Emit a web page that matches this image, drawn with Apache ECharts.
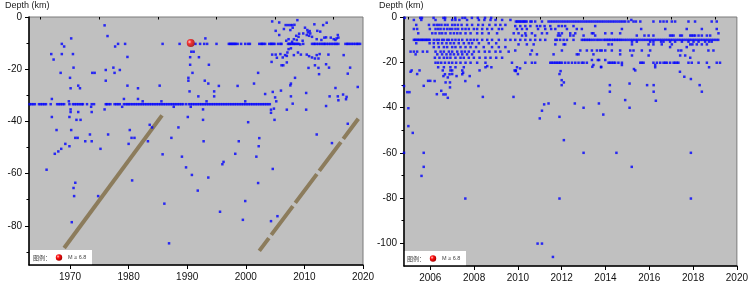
<!DOCTYPE html>
<html>
<head>
<meta charset="utf-8">
<script src="https://cdn.jsdelivr.net/npm/echarts@6/dist/echarts.min.js"></script>
<style>
  html, body { margin: 0; padding: 0; background: #fff; }
  #chart { width: 751px; height: 283px; }
</style>
</head>
<body>
<div id="chart"></div>
<script>
// ---- tick values ----
const leftXTicks = [1970, 1980, 1990, 2000, 2010, 2020]
const leftXMinor = [1965, 1975, 1985, 1995, 2005, 2015]
const leftYTicks = [0, -20, -40, -60, -80]
const leftYMinor = [-10, -30, -50, -70, -90]
const rightXTicks = [2006, 2008, 2010, 2012, 2014, 2016, 2018, 2020]
const rightXMinor = [2005, 2007, 2009, 2011, 2013, 2015, 2017, 2019]
const rightYTicks = [0, -20, -40, -60, -80, -100]
const rightYMinor = [-10, -30, -50, -70, -90]

// ---- left panel (1963-2020) ----
// events sitting on the -33 km row
const left33Depth = -33.4
const left33Years = [1963.1, 1963.4, 1963.7, 1964.0, 1964.7, 1965.0, 1965.3, 1965.6, 1965.9, 1966.7,
  1967.8, 1968.1, 1968.4, 1968.7, 1969.0, 1969.9, 1970.5, 1970.8, 1971.1, 1971.4, 1971.7, 1972.0,
  1972.2, 1972.9, 1973.7, 1974.1, 1976.1, 1976.3, 1976.6, 1976.9, 1977.6, 1977.9, 1978.2, 1978.5,
  1979.2, 1979.5, 1979.8, 1980.0, 1980.3, 1980.6, 1980.9, 1981.2, 1981.5, 1981.8, 1982.1, 1982.4,
  1982.7, 1983.0, 1983.3, 1983.6, 1983.9, 1984.2, 1984.5, 1984.8, 1985.1, 1985.4, 1985.7, 1986.0,
  1986.3, 1986.6, 1986.9, 1987.2, 1987.5, 1987.8, 1988.1, 1988.4, 1988.7, 1989.0, 1989.3, 1989.8,
  1990.3, 1990.6, 1990.9, 1991.2, 1991.5, 1991.8, 1992.1, 1992.4, 1992.7, 1993.0, 1993.3, 1993.6,
  1993.9, 1994.2, 1994.5, 1994.8, 1995.1, 1995.4, 1995.7, 1996.0, 1996.3, 1996.6, 1996.9, 1997.2,
  1997.5, 1997.8, 1998.1, 1998.4, 1998.7, 1999.0, 1999.3, 1999.6, 1999.9, 2000.2, 2000.5, 2000.8,
  2001.1, 2001.4, 2001.7, 2002.0, 2002.3, 2002.6, 2002.9, 2003.2, 2003.5, 2003.8, 2004.1]

// events sitting on the -10 km row
const left10Depth = -10.3
const left10Years = [1985.8, 1988.7, 1991.4, 1992.2, 1992.9, 1993.4, 1995.0, 1997.1, 1997.3, 1997.5,
  1997.7, 1997.9, 1998.1, 1998.3, 1998.6, 1999.2, 1999.9, 2000.4, 2000.7, 2002.3, 2002.6, 2002.8,
  2003.0, 2003.3, 2004.0, 2004.3, 2004.4, 2004.7, 2004.9, 2005.5, 2005.9, 2006.1, 2007.2, 2007.4,
  2007.6, 2007.8, 2008.1, 2008.3, 2008.5, 2008.8, 2009.0, 2009.8, 2011.3, 2011.6, 2011.8, 2012.1,
  2012.4, 2012.7, 2013.0, 2013.3, 2013.5, 2013.8, 2014.1, 2014.4, 2014.7, 2015.0, 2015.3, 2015.5,
  2015.8, 2017.0, 2017.3, 2017.5, 2017.8, 2018.1, 2018.4, 2018.7, 2019.0, 2019.2, 2019.5]

// remaining left events [year, depth]
const leftPoints = [
  [1975.9, -3.2], [1976.4, -7.3], [1970.2, -8.2], [1968.6, -10.3], [1969.0, -11.3], [1966.8, -14.2],
  [1967.2, -16.3], [1968.6, -14.2], [1970.5, -14.2], [1978.2, -10.3], [1979.4, -10.3], [1977.7, -11.3],
  [1979.8, -15.3], [1970.6, -19.4], [1968.4, -21.4], [1970.0, -23.3], [1973.8, -21.4], [1974.2, -21.4],
  [1976.1, -20.3], [1977.4, -19.4], [1978.5, -20.3], [1977.6, -21.4], [1976.1, -24.4], [1971.4, -26.3],
  [1971.7, -27.3], [1970.1, -27.3], [1979.8, -26.3], [1981.6, -27.3], [1966.9, -31.4], [1969.8, -32.3],
  [1979.2, -31.4], [1981.6, -31.4], [1978.9, -34.4], [1970.1, -35.4], [1973.6, -34.4], [1975.9, -35.4],
  [1970.1, -36.4], [1971.4, -36.4], [1973.7, -36.4], [1966.9, -38.3], [1969.9, -38.3], [1971.1, -39.4],
  [1971.8, -39.4], [1967.7, -43.3], [1970.2, -43.3], [1973.4, -45.0], [1976.5, -45.0], [1980.2, -43.3],
  [1993.1, -8.2], [1990.7, -13.3], [1991.1, -13.3], [1990.5, -15.4], [1992.0, -15.4], [1990.5, -18.3],
  [1993.7, -18.3], [1990.9, -21.4], [1990.2, -23.3], [1990.2, -24.4], [1993.0, -24.4], [1993.6, -25.5],
  [1995.4, -26.4], [1998.6, -26.4], [1985.3, -26.3], [1990.4, -28.5], [1994.6, -28.5], [1991.9, -30.4],
  [1994.6, -30.4], [1982.4, -32.3], [1985.6, -32.3], [1993.3, -32.3], [1999.9, -32.3], [1987.7, -34.4],
  [1990.6, -34.4], [1992.7, -35.4], [1990.1, -38.3], [1992.7, -39.4], [2000.4, -40.3], [1983.6, -41.3],
  [1984.0, -42.3], [1988.5, -42.3],
  [2004.5, -1.7], [2005.7, -2.1], [2008.8, -1.2], [2006.8, -3.1], [2007.2, -3.1], [2007.6, -3.1],
  [2007.9, -3.1], [2008.3, -3.0], [2005.1, -5.3], [2006.5, -4.6], [2007.6, -5.0], [2008.0, -4.1],
  [2010.1, -4.1], [2010.5, -5.0], [2010.9, -5.4], [2010.6, -5.9], [2011.0, -6.3], [2010.4, -6.9],
  [2010.8, -7.2], [2011.3, -7.6], [2011.7, -2.8], [2012.2, -5.3], [2012.7, -5.6], [2013.2, -3.1],
  [2013.8, -2.2], [2012.9, -8.8], [2012.1, -8.5], [2013.4, -7.9], [2013.7, -7.8], [2014.5, -7.9],
  [2015.0, -8.5], [2015.5, -8.2], [2015.8, -7.9], [2015.7, -6.9], [2015.3, -8.8], [2005.7, -6.9],
  [2006.9, -9.1], [2007.3, -8.5], [2007.9, -9.5], [2008.2, -8.5], [2008.7, -8.8], [2009.0, -7.6],
  [2008.6, -7.2], [2009.1, -6.4], [2009.8, -6.3], [2009.7, -9.1], [2009.3, -10.5],
  [2007.3, -12.3], [2007.7, -12.0], [2007.1, -13.6], [2006.7, -14.6], [2004.5, -14.4], [2005.1, -14.4],
  [2005.9, -14.2], [2005.3, -15.6], [2006.3, -15.5], [2007.0, -14.9], [2008.2, -14.6], [2008.9, -13.6],
  [2009.4, -14.4], [2010.4, -14.4], [2010.8, -15.0], [2011.3, -15.5], [2012.1, -14.6], [2012.6, -14.2],
  [2012.4, -15.9], [2011.8, -15.9], [2014.1, -14.4], [2016.7, -14.6], [2004.4, -17.2], [2006.1, -18.5],
  [2006.4, -18.5], [2007.0, -17.4], [2010.7, -19.5], [2011.8, -18.5], [2012.4, -19.5], [2013.7, -18.1],
  [2014.2, -19.4], [2017.8, -19.4], [2012.5, -21.9], [2017.4, -21.7], [2002.1, -21.4], [2001.4, -25.5],
  [2008.4, -23.3], [2007.7, -25.5], [2007.6, -26.2], [2006.0, -28.2], [2004.6, -28.7], [2005.0, -30.8],
  [2003.3, -29.5], [2005.2, -32.3], [2007.7, -30.4], [2008.0, -33.2], [2010.3, -29.1], [2014.3, -30.4],
  [2015.3, -27.2], [2015.7, -30.4], [2015.8, -31.9], [2016.6, -29.7], [2017.2, -30.6], [2017.1, -31.5],
  [2019.1, -26.8], [2013.7, -34.1], [2007.0, -35.5], [2004.8, -35.1], [2004.3, -35.5], [2004.3, -36.7],
  [2010.3, -35.5], [2004.9, -39.4], [2017.4, -40.9], [2012.1, -45.0],
  [1966.0, -58.5], [1967.4, -52.4], [1968.0, -51.5], [1968.5, -50.5], [1969.2, -48.6], [1969.9, -49.5],
  [1972.6, -47.6], [1973.7, -47.6], [1975.2, -50.5], [1974.8, -68.6], [1970.9, -63.5], [1970.6, -65.5],
  [1970.7, -68.6], [1970.3, -78.6], [1980.0, -48.6], [1980.6, -62.6], [1983.3, -47.6], [1985.8, -52.6],
  [1986.1, -71.5], [1986.9, -86.7], [1989.1, -53.5], [1989.8, -57.6], [1990.8, -60.5], [1991.8, -66.5],
  [1992.8, -47.6], [1993.6, -61.5], [1995.6, -74.6], [1996.0, -56.4], [1996.2, -55.5], [1998.2, -52.4],
  [1998.8, -47.6], [1999.5, -77.7], [1999.9, -70.5], [2001.8, -53.5], [2002.2, -49.5], [2002.1, -63.6],
  [2004.6, -58.2], [2004.3, -78.2], [2005.4, -76.3], [2014.7, -48.3],
  [1970.9, -46.3], [1971.3, -46.3], [1980.5, -46.3], [1981.0, -46.3], [1987.3, -46.3], [2002.3, -46.4]
]

// M >= 6.8
const bigQuakes = [[1990.6, -10.0]]

// the two brown bands (solid and broken)
const bandSolid = [[1969.0, -88.5], [1985.7, -37.7]]
const bandBroken = [[2002.3, -89.6], [2019.2, -39.0]]

// ---- right panel (2005-2020) ----
// rows: [depth, years]
const rightRows = [
  [-0.4, [2004.83, 2005.54, 2005.62, 2006.15, 2006.6, 2006.68, 2007.14, 2007.47, 2007.59, 2007.9, 2008.17, 2008.5, 2008.78]],
  [-1.3, [2005.25, 2005.59, 2006.24, 2006.67, 2007.0, 2007.15, 2007.33, 2007.68, 2008.22, 2008.47, 2008.75, 2008.98,
    2009.28, 2009.66, 2015.18]],
  [-2.0, [2009.91, 2009.97, 2010.03, 2010.09, 2010.16, 2010.22, 2010.28, 2010.34, 2010.4, 2010.57, 2010.63, 2010.79,
    2011.1, 2011.4, 2011.5, 2011.6, 2011.7, 2011.8, 2011.9, 2012.0, 2012.1, 2012.2, 2012.3, 2012.4, 2012.5, 2012.6,
    2012.7, 2012.8, 2012.9, 2013.0, 2013.1, 2013.2, 2013.3, 2013.4, 2013.5, 2013.6, 2013.7, 2013.8, 2013.9, 2014.0,
    2014.1, 2014.2, 2014.3, 2014.4, 2014.5, 2014.6, 2014.7, 2014.8, 2014.9, 2015.05, 2015.28, 2015.39, 2015.59,
    2016.19, 2016.5, 2016.65, 2016.8, 2017.03, 2017.18, 2017.79, 2018.09, 2018.85, 2019.08]],
  [-3.5, [2005.36, 2005.94, 2006.16, 2006.29, 2006.39, 2006.51, 2006.67, 2006.79, 2007.0, 2007.12, 2007.26, 2007.43,
    2007.68, 2007.91, 2008.19, 2008.4, 2008.7, 2008.98, 2009.2, 2009.43]],
  [-4.0, [2009.88, 2010.11, 2010.34, 2010.57, 2010.87, 2011.02, 2011.22, 2011.48, 2011.86, 2012.01, 2012.16, 2012.54, 2013.53]],
  [-5.3, [2005.25, 2005.4, 2005.98, 2006.24, 2006.36, 2006.47, 2006.62, 2006.77, 2006.89, 2007.0, 2007.15, 2007.27,
    2007.46, 2007.61, 2007.76, 2007.99, 2008.14, 2008.37, 2008.6, 2008.82, 2009.13, 2009.28, 2009.96, 2010.19, 2010.41,
    2010.92, 2011.25, 2011.52, 2011.71, 2012.24, 2012.69, 2012.92, 2014.75, 2015.63, 2016.73, 2017.71, 2018.4, 2019.08]],
  [-7.2, [2005.45, 2006.09, 2006.24, 2006.42, 2006.54, 2006.7, 2006.92, 2007.08, 2007.23, 2007.38, 2007.61, 2007.84,
    2008.14, 2008.37, 2008.67, 2009.05, 2009.81, 2010.03, 2010.34, 2010.64, 2011.1, 2011.33, 2011.86, 2012.01, 2012.39,
    2012.62, 2013.38, 2013.45, 2013.99, 2014.29, 2014.67, 2019.16]],
  [-8.2, [2010.19, 2010.37, 2010.79, 2011.83, 2011.93, 2012.39, 2012.54, 2013.0, 2013.53, 2015.43, 2015.78, 2015.97,
    2016.19, 2016.95, 2017.03, 2017.11, 2017.41, 2017.49, 2017.87, 2017.94, 2018.02, 2018.09, 2018.25, 2018.4,
    2018.63, 2018.78]],
  [-10.1, [2005.25, 2005.31, 2005.37, 2005.43, 2005.5, 2005.56, 2005.62, 2005.68, 2005.74, 2005.8, 2005.86, 2005.92,
    2005.98, 2006.16, 2006.29, 2006.39, 2006.54, 2006.62, 2006.77, 2006.85, 2007.0, 2007.15, 2007.3, 2007.46, 2007.68,
    2007.84, 2007.99, 2008.14, 2008.37, 2008.6, 2008.82, 2009.13, 2009.43, 2009.66, 2009.88, 2010.11, 2010.34,
    2010.57, 2010.79, 2011.02, 2011.25, 2011.71, 2011.78, 2011.93, 2012.09, 2012.24, 2012.54, 2012.92, 2013.0,
    2013.07, 2013.15, 2013.23, 2013.3, 2013.4, 2013.5, 2013.61, 2013.7, 2013.8, 2013.91, 2013.99, 2014.06, 2014.14,
    2014.2, 2014.29, 2014.37, 2014.44, 2014.52, 2014.59, 2014.67, 2014.75, 2014.85, 2014.95, 2015.05, 2015.15,
    2015.25, 2015.35, 2015.45, 2015.55, 2015.65, 2015.75, 2015.85, 2015.95, 2016.05, 2016.15, 2016.25, 2016.35,
    2016.45, 2016.55, 2016.65, 2016.75, 2016.85, 2016.95, 2017.05, 2017.15, 2017.25, 2017.35, 2017.45, 2017.55,
    2017.65, 2017.75, 2017.85, 2017.95, 2018.05, 2018.15, 2018.25, 2018.35, 2018.45, 2018.55, 2018.65, 2018.75,
    2018.85, 2018.95, 2019.05, 2019.15]],
  [-10.9, [2015.21, 2015.43, 2016.04, 2016.19, 2016.54, 2016.65, 2016.95, 2017.18, 2017.49, 2017.79, 2018.02, 2018.25,
    2018.55, 2018.73, 2018.85]],
  [-11.6, [2005.36, 2005.97, 2006.16, 2006.36, 2006.54, 2006.74, 2006.92, 2007.08, 2007.3, 2007.53, 2007.76, 2007.91,
    2008.22, 2008.67, 2009.01]],
  [-12.1, [2010.03, 2010.41, 2010.72, 2011.71, 2012.09, 2012.16, 2014.14, 2014.29, 2015.21, 2015.97, 2016.19, 2016.57,
    2017.03, 2017.87, 2017.97, 2018.17, 2018.4, 2018.63]],
  [-13.3, [2006.16, 2006.39, 2006.62, 2006.77, 2007.0, 2007.15, 2007.38, 2007.61, 2007.84, 2008.09, 2008.44, 2008.82,
    2009.13, 2009.43, 2016.95, 2017.71]],
  [-14.8, [2009.88, 2010.64, 2012.01, 2012.85, 2013.15, 2013.38, 2013.61, 2013.76, 2013.83, 2013.99, 2014.29, 2014.67,
    2015.13, 2015.28, 2015.66, 2016.04, 2017.33, 2017.46, 2018.02, 2018.7, 2018.93]],
  [-15.3, [2005.1, 2005.25, 2005.4, 2005.66, 2005.86, 2006.24, 2006.47, 2006.62, 2006.85, 2007.0, 2007.23, 2007.43,
    2007.58, 2007.76, 2007.99, 2008.22, 2008.49, 2008.7, 2008.98, 2009.2, 2009.58]],
  [-16.5, [2005.33, 2006.32, 2006.54, 2006.74, 2006.92, 2007.08, 2007.27, 2007.46, 2007.68, 2007.91, 2010.57, 2010.87,
    2011.63, 2012.69, 2012.77, 2013.45, 2014.67]],
  [-17.0, [2015.21, 2015.97, 2017.41, 2017.64]],
  [-18.0, [2006.21, 2006.42, 2006.62, 2006.77, 2006.92, 2007.15, 2007.38, 2007.53, 2007.76, 2007.99, 2008.25, 2008.52,
    2008.75, 2009.01, 2009.28, 2017.87]],
  [-19.0, [2013.38, 2013.65, 2013.71, 2013.99]],
  [-20.2, [2006.24, 2006.36, 2006.5, 2006.67, 2006.85, 2007.0, 2007.18, 2007.38, 2007.61, 2007.84, 2008.14, 2008.52,
    2009.73, 2010.34, 2010.64, 2010.79, 2011.48, 2011.55, 2011.63, 2011.71, 2011.78, 2011.86, 2011.93, 2012.01,
    2012.16, 2012.31, 2012.47, 2012.62, 2012.77, 2012.92, 2013.0, 2013.15, 2014.14, 2014.21, 2014.29, 2014.37,
    2014.44, 2014.59, 2014.75, 2015.59, 2015.66, 2015.74, 2016.19, 2016.35, 2016.5, 2016.65, 2016.73, 2016.8,
    2016.95, 2017.11, 2017.18, 2017.26, 2017.33, 2017.79, 2017.94, 2018.25, 2018.63, 2019.08, 2019.23]],
  [-21.2, [2013.45, 2014.75, 2016.27]],
  [-22.2, [2006.36, 2006.62, 2006.92, 2007.15, 2007.53, 2008.52, 2008.79, 2009.96, 2013.8, 2016.27, 2018.73]],
  [-23.6, [2005.15, 2005.51, 2006.57, 2006.92, 2007.0, 2007.46, 2008.25, 2009.85, 2009.91, 2015.36]],
  [-25.3, [2006.67, 2006.88, 2007.46]]
]

// deeper right events [year, depth]
const rightPoints = [
  [2005.1, -24.2], [2005.4, -25.2], [2005.7, -30.4], [2005.9, -28.2], [2006.0, -28.2], [2006.2, -28.3],
  [2006.3, -34.1], [2006.5, -32.6], [2006.6, -34.2], [2006.7, -34.2], [2006.8, -35.7], [2006.9, -31.1],
  [2006.7, -28.9], [2006.9, -28.9], [2006.6, -26.1], [2006.8, -26.7], [2007.0, -25.2], [2007.2, -26.1],
  [2007.5, -24.6], [2007.6, -28.3], [2004.8, -30.5], [2004.95, -33.2], [2005.05, -33.2], [2005.0, -40.3],
  [2007.8, -26.1], [2008.2, -30.5], [2008.4, -35.3], [2008.6, -21.7], [2009.8, -35.3], [2009.9, -23.9],
  [2010.0, -25.2], [2010.1, -22.7], [2011.0, -44.8], [2011.1, -41.4], [2011.2, -38.6], [2011.4, -38.2],
  [2011.9, -44.1], [2011.9, -25.2], [2011.95, -23.9], [2012.0, -27.9], [2012.1, -28.9], [2012.0, -30.1],
  [2012.6, -38.2], [2013.0, -40.1], [2013.7, -38.2], [2013.4, -22.0], [2013.8, -22.0], [2013.9, -43.1],
  [2014.2, -30.1], [2014.2, -33.0], [2014.9, -36.7], [2015.1, -40.1], [2015.1, -29.4], [2015.3, -23.0],
  [2015.9, -30.1], [2016.2, -30.1], [2016.2, -33.0], [2016.3, -37.0], [2017.4, -24.2], [2017.6, -26.4],
  [2017.9, -27.4], [2018.3, -30.1], [2018.4, -33.0],
  [2005.0, -48.2], [2005.2, -51.2], [2012.1, -54.4], [2004.8, -60.0], [2005.7, -60.0], [2005.7, -66.2],
  [2005.6, -70.2], [2007.6, -80.2], [2010.9, -100.1], [2011.1, -100.1], [2011.6, -106.0], [2011.9, -80.2],
  [2013.0, -60.0], [2014.5, -60.0], [2015.2, -66.2], [2017.9, -80.2], [2017.9, -60.0]
]

// ---- build tables ----
const leftData = leftPoints
  .concat(left33Years.map(y => [y, left33Depth]))
  .concat(left10Years.map(y => [y, left10Depth]))

let rightData = rightPoints.slice()
rightRows.forEach(row => {
  row[1].forEach(y => rightData.push([y, row[0]]))
})

const FONT = 'Liberation Sans, Arial, sans-serif'
const BLUE = '#0000ff'
const BAND = '#8c7c5c'

function mainX(grid, min, max, ticks) {
  return {
    type: 'value', gridIndex: grid, min: min, max: max,
    axisLine: { show: true, onZero: false, lineStyle: { color: '#000', width: 1.5 } },
    axisTick: { show: true, customValues: ticks, length: 4, lineStyle: { color: '#000' } },
    axisLabel: { customValues: ticks, formatter: v => String(v), color: '#111', fontSize: 10, fontFamily: FONT, margin: 7 },
    splitLine: { show: false }
  }
}
function minorX(grid, min, max, ticks) {
  return {
    type: 'value', gridIndex: grid, min: min, max: max, position: 'bottom',
    axisLine: { show: false },
    axisTick: { show: true, customValues: ticks, length: 2.5, lineStyle: { color: '#000' } },
    axisLabel: { show: false },
    splitLine: { show: false }
  }
}
function mainY(grid, min, max, ticks) {
  return {
    type: 'value', gridIndex: grid, min: min, max: max,
    axisLine: { show: true, onZero: false, lineStyle: { color: '#000', width: 1.5 } },
    axisTick: { show: true, customValues: ticks, length: 4, lineStyle: { color: '#000' } },
    axisLabel: { customValues: ticks, formatter: v => String(v), color: '#111', fontSize: 10, fontFamily: FONT, margin: 7 },
    splitLine: { show: false }
  }
}
function minorY(grid, min, max, ticks) {
  return {
    type: 'value', gridIndex: grid, min: min, max: max, position: 'left',
    axisLine: { show: false },
    axisTick: { show: true, customValues: ticks, length: 2.5, lineStyle: { color: '#000' } },
    axisLabel: { show: false },
    splitLine: { show: false }
  }
}

const redBall = new echarts.graphic.RadialGradient(0.35, 0.35, 0.7, [
  { offset: 0, color: '#ffd0d0' },
  { offset: 0.35, color: '#ff1010' },
  { offset: 1, color: '#a00000' }
])

function legendBox(x, y) {
  return {
    type: 'group', left: x, top: y, z: 50,
    children: [
      { type: 'rect', shape: { x: 0, y: 0, width: 62, height: 15 }, style: { fill: '#fff' } },
      { type: 'text', style: { x: 3, y: 7.5, text: '图例：', fill: '#444', font: '6px "Noto Sans CJK SC"', verticalAlign: 'middle' } },
      { type: 'circle', shape: { cx: 29, cy: 7.5, r: 3.2 }, style: { fill: redBall } },
      { type: 'text', style: { x: 38, y: 7.5, text: 'M ≥ 6.8', fill: '#444', font: '5.5px ' + FONT, verticalAlign: 'middle' } }
    ]
  }
}

const chart = echarts.init(document.getElementById('chart'), null, { renderer: 'canvas' })
chart.setOption({
  animation: false,
  backgroundColor: '#fff',
  grid: [
    { left: 29, top: 17, width: 334, height: 248, show: true, backgroundColor: '#c0c0c0', borderColor: '#7a7a7a', borderWidth: 1 },
    { left: 404, top: 17, width: 333, height: 249, show: true, backgroundColor: '#c0c0c0', borderColor: '#7a7a7a', borderWidth: 1 }
  ],
  xAxis: [
    mainX(0, 1963, 2020, leftXTicks),
    minorX(0, 1963, 2020, leftXMinor),
    mainX(1, 2004.8, 2020, rightXTicks),
    minorX(1, 2004.8, 2020, rightXMinor)
  ],
  yAxis: [
    mainY(0, -95, 0, leftYTicks),
    minorY(0, -95, 0, leftYMinor),
    mainY(1, -110, 0, rightYTicks),
    minorY(1, -110, 0, rightYMinor)
  ],
  graphic: [
    { type: 'text', left: 5, top: 1, style: { text: 'Depth (km)', fill: '#222', font: '9px ' + FONT } },
    { type: 'text', left: 379, top: 1, style: { text: 'Depth (km)', fill: '#222', font: '9px ' + FONT } },
    legendBox(30, 250),
    legendBox(404, 251)
  ],
  series: [
    {
      type: 'line', xAxisIndex: 0, yAxisIndex: 0, data: bandSolid, showSymbol: false, silent: true, z: 1,
      lineStyle: { color: BAND, width: 4, cap: 'butt' }
    },
    {
      type: 'line', xAxisIndex: 0, yAxisIndex: 0, data: bandBroken, showSymbol: false, silent: true, z: 1,
      lineStyle: { color: BAND, width: 4, cap: 'butt', type: [36, 4], dashOffset: 20 }
    },
    {
      type: 'scatter', xAxisIndex: 0, yAxisIndex: 0, data: leftData, symbol: 'rect', symbolSize: 2.5,
      itemStyle: { color: BLUE }, silent: true, z: 3
    },
    {
      type: 'scatter', xAxisIndex: 0, yAxisIndex: 0, data: bigQuakes, symbol: 'circle', symbolSize: 8,
      itemStyle: { color: redBall }, silent: true, z: 4
    },
    {
      type: 'scatter', xAxisIndex: 2, yAxisIndex: 2, data: rightData, symbol: 'rect', symbolSize: 2.5,
      itemStyle: { color: BLUE }, silent: true, z: 3
    }
  ]
})
</script>
</body>
</html>
